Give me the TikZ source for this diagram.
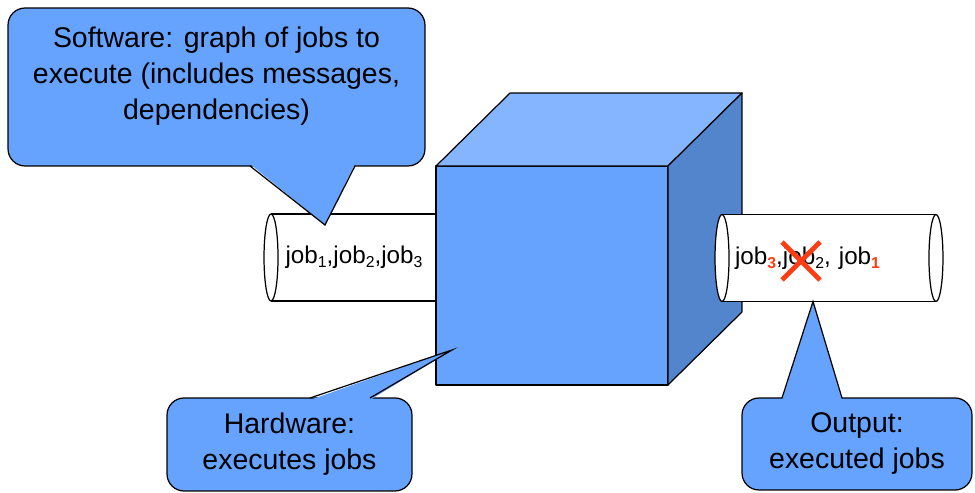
\documentclass[tikz,border=0pt]{standalone}
\usepackage{xcolor}
\usepackage{fontspec}
\setmainfont{Liberation Sans}
\usepackage{tikz}
\usetikzlibrary{calc}
\definecolor{NoteBlue}{HTML}{66A3FF}
\definecolor{CubeTop}{HTML}{85B5FF}
\definecolor{CubeSide}{HTML}{5285CC}
\definecolor{XRed}{HTML}{FF3D14}
\newcommand{\jobsub}[1]{\raisebox{-0.08cm}{\fontsize{9}{10}\selectfont #1}}

\begin{document}
\begin{tikzpicture}[
  x=0.02cm, y=-0.02cm,
  bubble/.style={rectangle, rounded corners=0.34cm, draw, line width=0.7pt, fill=NoteBlue,
    align=center, inner sep=0pt, outer sep=0pt, font=\fontsize{16.2}{20.5}\selectfont},
  pointer/.style={line width=0.7pt, line join=miter},
  pipe/.style={rectangle, fill=white, minimum height=1.74cm, inner sep=0pt, outer sep=0pt,
    font=\fontsize{13.8}{16}\selectfont},
  pipeline/.style={line width=0.7pt},
  face/.style={draw, line width=0.7pt, line join=round},
  cross/.style={draw=XRed, line width=2.8pt}
]
\useasboundingbox (0,0) rectangle (975,493);

\node[pipe, minimum width=3.32cm] (qin) at (354,257.5)
  {job\jobsub{1},job\jobsub{2},job\jobsub{3}};
\draw[pipeline] (qin.north west) -- (qin.north east) (qin.south west) -- (qin.south east);
\draw[pipeline, fill=white] (qin.west) ellipse [x radius=0.14cm, y radius=0.87cm];

\node[face, fill=NoteBlue, minimum width=4.64cm, minimum height=4.38cm, outer sep=0pt] (cube) at (552,275.5) {};
\draw[face, fill=CubeTop] (cube.north west) -- ++(74,-73) -- ++(232,0) -- (cube.north east) -- cycle;
\draw[face, fill=CubeSide] (cube.north east) -- ++(74,-73) -- ++(0,219) -- (cube.south east) -- cycle;

\node[pipe, minimum width=4.28cm, text width=3.76cm, align=left, inner xsep=0.26cm] (qout) at (829,258)
  {job\jobsub{\textcolor{XRed}{\textbf{3}}},job\jobsub{2}, job\jobsub{\textcolor{XRed}{\textbf{1}}}};
\draw[pipeline] (qout.north west) -- (qout.north east) (qout.south west) -- (qout.south east);
\draw[pipeline, fill=white] (qout.west) ellipse [x radius=0.14cm, y radius=0.87cm];
\draw[pipeline, fill=white] (qout.east) ellipse [x radius=0.14cm, y radius=0.87cm];
\draw[cross] (782,242) -- (820,280) (782,280) -- (820,242);

\coordinate (swtip) at ([xshift=-0.58cm, yshift=-0.22cm]qin.north);
\coordinate (hwtip) at ([xshift=0.32cm, yshift=0.7cm]cube.south west);
\coordinate (outtip) at ([xshift=-0.32cm]qout.south);

\node[bubble, minimum width=8.34cm, minimum height=3.16cm] (sw) at (216.5,87)
  {Software: graph of jobs to\\execute (includes messages,\\dependencies)\\[-4.8pt]\mbox{}};
\fill[NoteBlue] ([xshift=0.67cm, yshift=0.04cm]sw.south) -- (swtip) -- ([xshift=2.77cm, yshift=0.04cm]sw.south) -- cycle;
\draw[pointer] ([xshift=0.67cm]sw.south) -- (swtip) -- ([xshift=2.77cm]sw.south);

\node[bubble, minimum width=4.9cm, minimum height=1.86cm] (hw) at (289.5,444.5)
  {Hardware:\\executes jobs};
\fill[NoteBlue] ([xshift=0.41cm, yshift=-0.04cm]hw.north) -- (hwtip) -- ([xshift=1.61cm, yshift=-0.04cm]hw.north) -- cycle;
\draw[pointer] ([xshift=0.41cm]hw.north) -- (hwtip) -- ([xshift=1.61cm]hw.north);

\node[bubble, minimum width=4.6cm, minimum height=1.84cm] (out) at (857,444)
  {Output:\\executed jobs};
\fill[NoteBlue] ([xshift=-1.5cm, yshift=-0.04cm]out.north) -- (outtip) -- ([xshift=-0.3cm, yshift=-0.04cm]out.north) -- cycle;
\draw[pointer] ([xshift=-1.5cm]out.north) -- (outtip) -- ([xshift=-0.3cm]out.north);
\end{tikzpicture}
\end{document}
